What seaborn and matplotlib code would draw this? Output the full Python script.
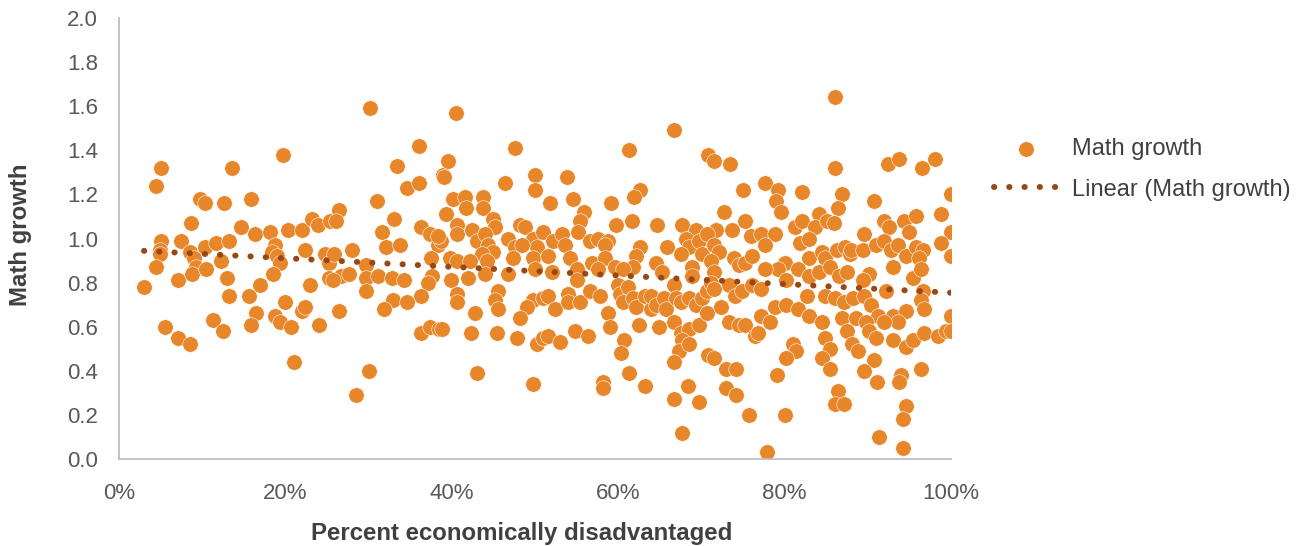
import numpy as np
import pandas as pd
import matplotlib
matplotlib.use("Agg")
import matplotlib.pyplot as plt
import seaborn as sns
from matplotlib.ticker import PercentFormatter, MultipleLocator

sns.set_theme(style="white")
plt.rcParams['font.family'] = ['Liberation Sans', 'DejaVu Sans']

# Data, grouped by x band (percent disadvantaged, math growth)
pct_00_13 = [5.0, 4.4, 9.7, 10.3, 12.6, 13.6, 8.6, 5.1, 7.5, 4.9, 4.9, 4.4, 3.0, 7.1, 8.5,
             9.0, 9.3, 8.8, 10.3, 10.4, 11.6, 12.2, 13.2, 13.0, 13.2, 5.5, 7.1, 8.5, 11.3, 12.5]
growth_00_13 = [1.32, 1.24, 1.18, 1.16, 1.16, 1.32, 1.07, 0.99, 0.99, 0.95, 0.93, 0.87, 0.78, 0.81, 0.94,
                0.91, 0.87, 0.84, 0.96, 0.86, 0.98, 0.90, 0.99, 0.82, 0.74, 0.60, 0.55, 0.52, 0.63, 0.58]

pct_13_26 = [19.7, 15.9, 14.7, 16.3, 18.1, 20.3, 22.0, 23.2, 23.9, 25.4, 18.7, 18.4, 19.0, 19.4, 18.5, 22.4,
             24.8, 25.2, 16.9, 15.6, 20.0, 23.0, 25.2, 16.5, 15.9, 18.8, 19.4, 20.7, 22.0, 22.4, 24.0, 21.0]
growth_13_26 = [1.38, 1.18, 1.05, 1.02, 1.03, 1.04, 1.04, 1.09, 1.06, 1.08, 0.97, 0.94, 0.92, 0.89, 0.84, 0.95,
                0.93, 0.89, 0.79, 0.74, 0.71, 0.79, 0.82, 0.66, 0.61, 0.65, 0.62, 0.60, 0.67, 0.69, 0.61, 0.44]

pct_26_38 = [30.2, 36.0, 33.4, 34.6, 36.0, 38.9, 31.0, 26.5, 26.1, 33.0, 31.6, 32.1, 33.8, 36.3, 37.4, 38.3,
             37.5, 25.9, 28.0, 29.7, 26.7, 27.7, 25.7, 29.7, 29.7, 31.1, 32.8, 34.2, 37.6, 37.1, 36.3, 32.9,
             31.8, 34.6, 26.5, 36.3, 37.4, 38.5, 30.1, 28.5]
growth_26_38 = [1.59, 1.42, 1.33, 1.23, 1.25, 1.29, 1.17, 1.13, 1.08, 1.09, 1.03, 0.96, 0.97, 1.05, 1.02, 0.97,
                0.91, 0.93, 0.95, 0.88, 0.83, 0.84, 0.81, 0.82, 0.76, 0.83, 0.82, 0.81, 0.83, 0.80, 0.74, 0.72,
                0.68, 0.71, 0.67, 0.57, 0.60, 0.59, 0.40, 0.29]

pct_38_51 = [40.5, 47.6, 39.6, 39.1, 46.4, 50.0, 50.0, 40.2, 41.6, 41.7,
             43.8, 43.8, 39.3, 45.0, 45.2, 40.6, 40.6, 42.4, 43.0, 44.0,
             44.4, 45.0, 38.7, 38.4, 48.2, 48.8, 46.8, 47.6, 47.4, 49.8,
             50.2, 49.8, 51.0, 48.4, 43.6, 44.2, 39.8, 40.6, 42.2, 42.0,
             44.0, 39.9, 46.8, 50.0, 40.6, 40.6, 45.6, 45.2, 45.6, 49.8,
             49.0, 48.2, 51.0, 42.8, 38.8, 42.3, 45.4, 47.8, 50.2, 51.0,
             43.0, 49.8]
growth_38_51 = [1.57, 1.41, 1.35, 1.28, 1.25, 1.29, 1.22, 1.18, 1.19, 1.14,
                1.19, 1.14, 1.11, 1.09, 1.05, 1.06, 1.02, 1.04, 0.99, 1.02,
                0.97, 0.94, 0.99, 1.01, 1.06, 1.05, 1.00, 0.96, 0.91, 1.00,
                0.96, 0.91, 1.03, 0.97, 0.93, 0.90, 0.91, 0.90, 0.90, 0.82,
                0.84, 0.81, 0.84, 0.86, 0.75, 0.71, 0.76, 0.72, 0.68, 0.72,
                0.69, 0.64, 0.73, 0.66, 0.59, 0.57, 0.57, 0.55, 0.52, 0.55,
                0.39, 0.34]

pct_51_64 = [61.3, 53.8, 62.6, 61.9, 51.8, 54.6, 59.1, 55.9, 55.4, 55.2,
             61.7, 59.7, 52.2, 53.2, 53.6, 56.6, 57.6, 58.8, 58.4, 51.6,
             54.2, 56.8, 58.4, 62.6, 62.2, 61.8, 52.0, 55.0, 57.6, 59.6,
             60.6, 60.0, 60.2, 60.6, 61.2, 61.8, 62.2, 63.2, 55.0, 51.6,
             52.4, 54.0, 54.0, 55.4, 56.6, 57.8, 58.8, 59.0, 64.0, 54.8,
             56.4, 51.6, 53.0, 62.5, 60.7, 60.3, 58.2, 58.2, 61.3, 63.2]
growth_51_64 = [1.40, 1.28, 1.22, 1.19, 1.16, 1.18, 1.16, 1.12, 1.08, 1.03,
                1.08, 1.06, 0.99, 1.02, 0.97, 0.99, 1.00, 0.99, 0.97, 0.92,
                0.91, 0.89, 0.91, 0.96, 0.92, 0.87, 0.85, 0.86, 0.86, 0.87,
                0.86, 0.79, 0.75, 0.71, 0.78, 0.73, 0.69, 0.74, 0.81, 0.74,
                0.68, 0.75, 0.71, 0.71, 0.76, 0.74, 0.66, 0.60, 0.68, 0.58,
                0.56, 0.56, 0.53, 0.61, 0.54, 0.48, 0.35, 0.32, 0.39, 0.33]

pct_64_77 = [66.7, 70.8, 71.5, 73.4, 75.0, 72.7, 64.7, 67.7, 69.3, 71.7,
             73.7, 75.3, 76.0, 65.9, 68.1, 68.5, 67.5, 69.7, 70.1, 70.7,
             71.5, 72.1, 71.1, 71.5, 73.9, 74.5, 75.3, 76.1, 64.5, 65.3,
             68.9, 68.9, 63.9, 64.5, 65.5, 65.7, 66.7, 66.9, 67.5, 68.5,
             69.3, 70.1, 70.7, 71.1, 71.5, 73.3, 74.1, 74.9, 76.1, 64.9,
             66.7, 67.5, 68.5, 69.7, 70.7, 72.3, 73.3, 74.5, 75.3, 76.5,
             67.7, 67.3, 66.7, 68.5, 70.8, 71.5, 73.0, 74.2, 68.4, 66.7,
             69.7, 73.0, 74.2, 75.7, 67.7]
growth_64_77 = [1.49, 1.38, 1.35, 1.34, 1.22, 1.12, 1.06, 1.06, 1.04, 1.04,
                1.04, 1.08, 1.01, 0.96, 1.00, 0.96, 0.93, 0.99, 0.93, 1.02,
                0.97, 0.94, 0.90, 0.85, 0.91, 0.88, 0.89, 0.92, 0.89, 0.85,
                0.87, 0.83, 0.74, 0.70, 0.73, 0.68, 0.79, 0.73, 0.71, 0.73,
                0.70, 0.73, 0.76, 0.80, 0.77, 0.79, 0.74, 0.76, 0.79, 0.60,
                0.62, 0.57, 0.59, 0.61, 0.66, 0.69, 0.62, 0.61, 0.61, 0.56,
                0.54, 0.49, 0.44, 0.52, 0.47, 0.46, 0.41, 0.41, 0.33, 0.27,
                0.26, 0.32, 0.29, 0.20, 0.12]

pct_77_88 = [86.1, 86.1, 77.6, 79.2, 79.0, 79.6, 82.1, 86.9, 86.4, 84.1,
             81.3, 82.1, 83.7, 85.1, 85.9, 77.2, 78.8, 77.6, 81.9, 82.9,
             82.9, 84.5, 84.9, 86.3, 87.3, 87.9, 80.0, 79.2, 77.6, 81.6,
             82.9, 84.1, 85.5, 86.5, 87.5, 77.2, 80.2, 82.7, 84.9, 86.1,
             87.1, 78.8, 80.2, 81.6, 82.9, 77.2, 78.2, 76.8, 84.5, 84.9,
             85.5, 86.9, 87.5, 88.1, 81.0, 81.4, 80.2, 84.5, 85.5, 79.1,
             86.4, 86.1, 87.1, 80.0, 77.9]
growth_77_88 = [1.64, 1.32, 1.25, 1.22, 1.17, 1.12, 1.21, 1.20, 1.14, 1.11,
                1.05, 1.08, 1.05, 1.08, 1.07, 1.02, 1.02, 0.97, 0.98, 1.00,
                0.91, 0.94, 0.91, 0.95, 0.96, 0.93, 0.89, 0.86, 0.86, 0.86,
                0.83, 0.85, 0.87, 0.83, 0.85, 0.77, 0.81, 0.74, 0.74, 0.73,
                0.71, 0.69, 0.70, 0.68, 0.65, 0.65, 0.62, 0.57, 0.62, 0.55,
                0.50, 0.64, 0.58, 0.52, 0.52, 0.49, 0.46, 0.46, 0.41, 0.38,
                0.31, 0.25, 0.25, 0.20, 0.03]

pct_88_100 = [92.4, 93.8, 96.5, 98.1, 100, 90.8, 98.8, 92.0, 92.6, 94.4,
              95.8, 95.0, 89.5, 100, 98.8, 100, 88.0, 89.4, 91.0, 92.0,
              92.8, 93.6, 94.6, 95.8, 96.6, 96.2, 93.0, 90.2, 89.4, 95.4,
              96.4, 92.2, 96.6, 96.4, 96.8, 88.2, 89.6, 90.4, 91.2, 93.0,
              94.6, 93.6, 88.6, 89.8, 90.2, 91.0, 92.0, 93.0, 94.6, 95.4,
              96.8, 98.5, 99.4, 100, 100, 88.8, 90.8, 89.6, 91.1, 94.0,
              93.8, 96.4, 94.6, 94.2, 91.4, 94.2]
growth_88_100 = [1.34, 1.36, 1.32, 1.36, 1.20, 1.17, 1.11, 1.08, 1.05, 1.08,
                 1.10, 1.03, 1.02, 1.03, 0.98, 0.92, 0.95, 0.95, 0.97, 0.99,
                 0.95, 0.97, 0.92, 0.96, 0.95, 0.91, 0.87, 0.84, 0.81, 0.82,
                 0.86, 0.76, 0.76, 0.72, 0.68, 0.73, 0.74, 0.70, 0.65, 0.65,
                 0.67, 0.62, 0.64, 0.62, 0.58, 0.55, 0.62, 0.54, 0.51, 0.54,
                 0.57, 0.56, 0.58, 0.65, 0.58, 0.49, 0.45, 0.40, 0.35, 0.38,
                 0.35, 0.41, 0.24, 0.18, 0.10, 0.05]

pct = (pct_00_13 + pct_13_26 + pct_26_38 + pct_38_51 + pct_51_64
       + pct_64_77 + pct_77_88 + pct_88_100)
growth = (growth_00_13 + growth_13_26 + growth_26_38 + growth_38_51 + growth_51_64
          + growth_64_77 + growth_77_88 + growth_88_100)
assert len(pct) == len(growth)

df = pd.DataFrame({"pct": pct, "growth": growth})

dot_color = "#E8862A"
trend_color = "#9A4716"
axis_grey = "#BFBFBF"
text_grey = "#595959"
label_grey = "#404040"

fig = plt.figure(figsize=(13.05, 5.46), dpi=100)
ax = fig.add_axes([0.0912, 0.1593, 0.6375, 0.8077])

sns.scatterplot(data=df, x="pct", y="growth", ax=ax, s=125, color=dot_color,
                edgecolor="white", linewidth=0.4, label="Math growth", zorder=2)
sns.regplot(data=df, x="pct", y="growth", ax=ax, scatter=False, ci=None,
            label="Linear (Math growth)",
            line_kws=dict(color=trend_color, lw=4.3, linestyle=(0, (0.05, 2.5)),
                          dash_capstyle="round", zorder=3))

ax.set_xlim(0, 100)
ax.set_ylim(0, 2.0)
ax.xaxis.set_major_locator(MultipleLocator(20))
ax.xaxis.set_major_formatter(PercentFormatter(100, decimals=0))
ax.yaxis.set_major_locator(MultipleLocator(0.2))
ax.yaxis.set_major_formatter(plt.FormatStrFormatter("%.1f"))

sns.despine(ax=ax)
for side in ["left", "bottom"]:
    ax.spines[side].set_color(axis_grey)
    ax.spines[side].set_linewidth(1.3)
ax.tick_params(axis="both", which="major", direction="out", length=5, width=1.2,
               color=axis_grey, labelcolor=text_grey, labelsize=16)
ax.tick_params(axis="x", pad=12)
ax.tick_params(axis="y", pad=10)
ax.grid(False)

ax.set_xlabel("Percent economically disadvantaged", fontsize=17.3, fontweight="bold",
              color=label_grey, labelpad=13, x=0.4838)
ax.set_ylabel("Math growth", fontsize=17.3, fontweight="bold", color=label_grey,
              labelpad=25, y=0.508)

ax.legend(loc="upper left", bbox_to_anchor=(0.7617, 0.7467), bbox_transform=fig.transFigure,
          frameon=False, fontsize=17, labelcolor=label_grey, handlelength=2.7,
          handletextpad=0.6, labelspacing=0.78, borderpad=0, borderaxespad=0)

fig.savefig("out.png", dpi=100)
